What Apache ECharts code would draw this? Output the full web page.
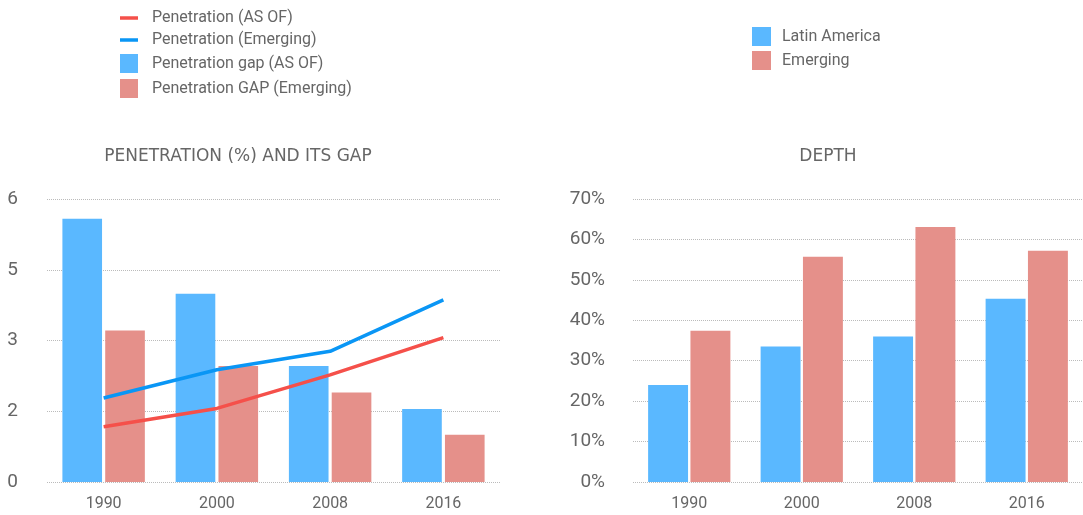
<!DOCTYPE html>
<html>
<head>
<meta charset="utf-8">
<script src="https://cdn.jsdelivr.net/npm/echarts@6/dist/echarts.min.js"></script>
<style>
  html, body { margin: 0; padding: 0; background: #fff; }
  #chart { width: 1083px; height: 515px; }
</style>
</head>
<body>
<div id="chart"></div>
<script>
const years = ['1990', '2000', '2008', '2016']

// left panel: penetration and its gap
const gapAsOf = [5.58, 3.99, 2.46, 1.55]
const gapEmerging = [3.21, 2.46, 1.90, 1.00]
const penAsOf = [1.17, 1.56, 2.27, 3.06]
const penEmerging = [1.78, 2.38, 2.77, 3.86]

// right panel: depth (%)
const depthLatam = [24.0, 33.5, 36.0, 45.3]
const depthEmerging = [37.4, 55.7, 63.1, 57.2]

const blue = '#5ab8ff'
const salmon = '#e5908a'
const lineRed = '#f5504a'
const lineBlue = '#0a96f5'
const textColor = '#666'
const fontFamily = 'Roboto, "Noto Sans", sans-serif'
const lineIcon = 'path://M0,0 L18,0 L18,3.5 L0,3.5 Z'

const splitLine = { show: true, lineStyle: { type: 'dotted', color: '#bbb', width: 1 } }

let chart = echarts.init(document.getElementById('chart'))

let option = {
  textStyle: { fontFamily: fontFamily },
  animation: false,
  title: [
    {
      text: 'PENETRATION (%) AND ITS GAP',
      left: 233,
      top: 143,
      textAlign: 'center',
      textStyle: { fontSize: 17, fontWeight: 'normal', color: textColor, fontFamily: '"DejaVu Sans"' }
    },
    {
      text: 'DEPTH',
      left: 823,
      top: 143,
      textAlign: 'center',
      textStyle: { fontSize: 17, fontWeight: 'normal', color: textColor, fontFamily: '"DejaVu Sans"' }
    }
  ],
  legend: [
    {
      orient: 'vertical',
      left: 120,
      top: 10,
      padding: 0,
      itemWidth: 18,
      itemHeight: 19,
      itemGap: 6,
      symbolKeepAspect: true,
      textStyle: { fontSize: 16, color: textColor, fontFamily: fontFamily, padding: [0, 0, 0, 9] },
      data: [
        { name: 'Penetration (AS OF)', icon: lineIcon },
        { name: 'Penetration (Emerging)', icon: lineIcon },
        { name: 'Penetration gap (AS OF)', icon: 'rect' },
        { name: 'Penetration GAP (Emerging)', icon: 'rect' }
      ]
    },
    {
      orient: 'vertical',
      left: 752,
      top: 27,
      padding: 0,
      itemWidth: 19,
      itemHeight: 19,
      itemGap: 5,
      icon: 'rect',
      textStyle: { fontSize: 16, color: textColor, fontFamily: fontFamily, padding: [0, 0, 0, 6] },
      data: ['Latin America', 'Emerging']
    }
  ],
  grid: [
    { left: 47, width: 453, top: 199, bottom: 33 },
    { left: 633, right: -11, top: 199, bottom: 33 }
  ],
  xAxis: [
    {
      type: 'category',
      gridIndex: 0,
      data: years,
      axisLine: { show: false },
      axisTick: { show: false },
      axisLabel: { color: textColor, fontSize: 16, margin: 14 }
    },
    {
      type: 'category',
      gridIndex: 1,
      data: years,
      axisLine: { show: false },
      axisTick: { show: false },
      axisLabel: { color: textColor, fontSize: 16, margin: 14 }
    }
  ],
  yAxis: [
    {
      type: 'value',
      gridIndex: 0,
      min: 0,
      max: 6,
      interval: 1.5,
      axisLine: { show: false },
      axisTick: { show: false },
      splitLine: splitLine,
      axisLabel: {
        color: textColor,
        fontSize: 19,
        margin: 29,
        formatter: function (v) { return Math.round(v) }
      }
    },
    {
      type: 'value',
      gridIndex: 1,
      min: 0,
      max: 70,
      interval: 10,
      axisLine: { show: false },
      axisTick: { show: false },
      splitLine: splitLine,
      axisLabel: { color: textColor, fontSize: 19, margin: 28, formatter: '{value}%' }
    }
  ],
  series: [
    {
      name: 'Penetration gap (AS OF)',
      type: 'bar',
      xAxisIndex: 0,
      yAxisIndex: 0,
      data: gapAsOf,
      barWidth: '35%',
      barGap: '8%',
      itemStyle: { color: blue }
    },
    {
      name: 'Penetration GAP (Emerging)',
      type: 'bar',
      xAxisIndex: 0,
      yAxisIndex: 0,
      data: gapEmerging,
      barWidth: '35%',
      barGap: '8%',
      itemStyle: { color: salmon }
    },
    {
      name: 'Penetration (AS OF)',
      type: 'line',
      xAxisIndex: 0,
      yAxisIndex: 0,
      data: penAsOf,
      symbol: 'none',
      z: 5,
      itemStyle: { color: lineRed },
      lineStyle: { color: lineRed, width: 3.5 }
    },
    {
      name: 'Penetration (Emerging)',
      type: 'line',
      xAxisIndex: 0,
      yAxisIndex: 0,
      data: penEmerging,
      symbol: 'none',
      z: 5,
      itemStyle: { color: lineBlue },
      lineStyle: { color: lineBlue, width: 3.5 }
    },
    {
      name: 'Latin America',
      type: 'bar',
      xAxisIndex: 1,
      yAxisIndex: 1,
      data: depthLatam,
      barWidth: '35.5%',
      barGap: '6%',
      itemStyle: { color: blue }
    },
    {
      name: 'Emerging',
      type: 'bar',
      xAxisIndex: 1,
      yAxisIndex: 1,
      data: depthEmerging,
      barWidth: '35.5%',
      barGap: '6%',
      itemStyle: { color: salmon }
    }
  ]
}

chart.setOption(option)
</script>
</body>
</html>
